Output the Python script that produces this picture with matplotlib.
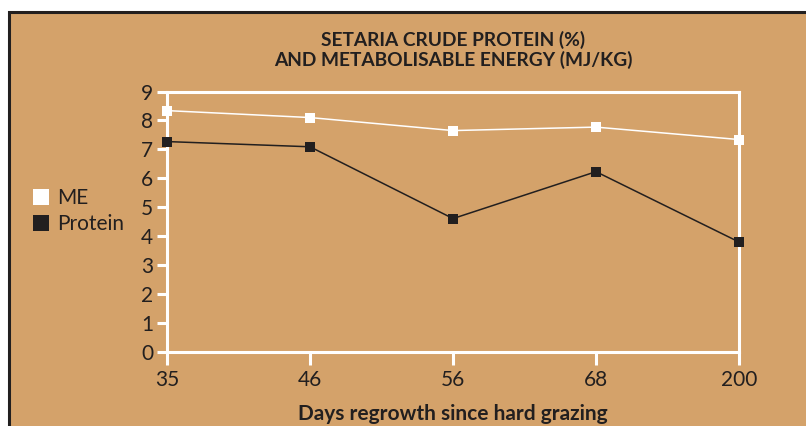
import matplotlib.pyplot as plt
from matplotlib.patches import Rectangle

# Setaria crude protein and ME vs days regrowth #
days = ['35', '46', '56', '68', '200']
me = [8.34, 8.10, 7.65, 7.77, 7.34]
protein = [7.27, 7.09, 4.61, 6.23, 3.80]
y_ticks = list(range(0, 10))

bg = '#D4A26A'
dark = '#221F1F'
font = 'Lato'

fig = plt.figure(figsize=(8.06, 4.26), dpi=100)
fig.patch.set_facecolor('white')

# tan panel with dark frame on left/top
fig.patches.append(Rectangle((8.5 / 806, -0.05), 1.0, (426 - 12) / 426 + 0.05,
                             transform=fig.transFigure, facecolor=bg,
                             edgecolor=dark, linewidth=2.2, zorder=-5))

ax = fig.add_axes([167 / 806, (426 - 352) / 426, 572 / 806, 260.5 / 426])
ax.set_facecolor('none')
ax.set_zorder(2)

x = range(len(days))
ax.plot(x, me, color='white', linewidth=1.1, marker='s', markersize=7,
        markeredgewidth=0, label='ME', clip_on=False, zorder=3)
ax.plot(x, protein, color=dark, linewidth=1.1, marker='s', markersize=7,
        markeredgewidth=0, label='Protein', clip_on=False, zorder=3)

ax.set_xlim(0, 4)
ax.set_ylim(0, 9)
ax.set_xticks(list(x))
ax.set_xticklabels(days)
ax.set_yticks(y_ticks)

for s in ax.spines.values():
    s.set_color('white')
    s.set_linewidth(2.2)

ax.tick_params(axis='both', colors='white', width=2.2, direction='out',
               labelcolor=dark, labelsize=15)
ax.tick_params(axis='y', length=7, pad=3)
ax.tick_params(axis='x', length=9, pad=4)
for lab in ax.get_xticklabels() + ax.get_yticklabels():
    lab.set_fontfamily(font)

fig.text(453 / 806, 1 - 40 / 426, 'SETARIA CRUDE PROTEIN (%)', ha='center',
         va='center', fontsize=13.8, fontweight='bold', color=dark, family=font)
fig.text(453 / 806, 1 - 60 / 426, 'AND METABOLISABLE ENERGY (MJ/KG)', ha='center',
         va='center', fontsize=13.8, fontweight='bold', color=dark, family=font)
fig.text(453 / 806, 1 - 414 / 426, 'Days regrowth since hard grazing', ha='center',
         va='center', fontsize=15, fontweight='bold', color=dark, family=font)

leg = fig.legend(loc='upper left', bbox_to_anchor=(33 / 806, 1 - 188 / 426),
                 frameon=False, handlelength=0.8, handletextpad=0.35,
                 labelspacing=0.3, borderpad=0, borderaxespad=0,
                 prop={'family': font, 'size': 15}, labelcolor=dark)
for h in leg.legend_handles:
    h.set_linestyle('none')
    h.set_markersize(11.5)

fig.savefig('out.png', dpi=100, facecolor=fig.get_facecolor())
